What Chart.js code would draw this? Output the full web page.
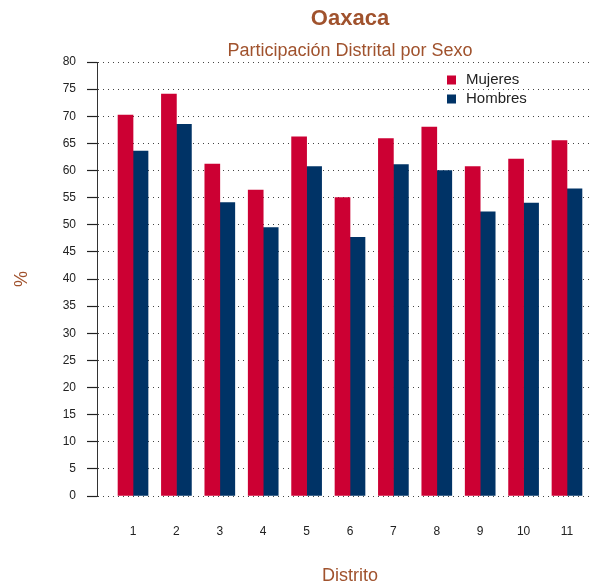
<!DOCTYPE html>
<html>
<head>
<meta charset="utf-8">
<script src="https://cdn.jsdelivr.net/npm/chart.js@4/dist/chart.umd.min.js"></script>
<style>
  html, body { margin: 0; background: #fff; overflow: hidden; }
  #caja { width: 603px; height: 587px; }
</style>
</head>
<body>
<div id="caja"><canvas id="grafica"></canvas></div>
<script>
const distritos = [1, 2, 3, 4, 5, 6, 7, 8, 9, 10, 11]
const mujeres = [70.2, 74.1, 61.2, 56.4, 66.2, 55.0, 65.9, 68.0, 60.7, 62.1, 65.5]
const hombres = [63.6, 68.5, 54.1, 49.5, 60.7, 47.7, 61.1, 60.0, 52.4, 54.0, 56.6]
const ticksY = [0, 5, 10, 15, 20, 25, 30, 35, 40, 45, 50, 55, 60, 65, 70, 75, 80]

const cafe = "#A0522D"
const rojo = "#CC0033"
const azul = "#003366"
const fuente = "'Liberation Sans', Arial, Helvetica, sans-serif"

// leyenda dentro del area de la grafica (arriba a la derecha)
const leyenda = {
  id: "leyenda",
  afterDraw(chart) {
    const ctx = chart.ctx
    ctx.save()
    ctx.font = "15px " + fuente
    ctx.textBaseline = "middle"
    chart.data.datasets.forEach((ds, i) => {
      const y = 80 + i * 19
      ctx.fillStyle = ds.backgroundColor
      ctx.fillRect(447, y - 4.5, 9, 9)
      ctx.fillStyle = "#222"
      ctx.fillText(ds.label, 466, y)
    })
    ctx.restore()
  }
}

const datos = (serie) => distritos.map((d, i) => ({ x: d, y: serie[i] }))

const config = {
  type: "bar",
  data: {
    datasets: [
      { label: "Mujeres", backgroundColor: rojo, data: datos(mujeres), barThickness: 15 },
      { label: "Hombres", backgroundColor: azul, data: datos(hombres), barThickness: 15 }
    ]
  },
  options: {
    responsive: true,
    maintainAspectRatio: false,
    animation: false,
    layout: { padding: 0 },
    plugins: {
      legend: { display: false },
      tooltip: { enabled: false },
      title: {
        display: true,
        text: "Oaxaca",
        color: cafe,
        fullSize: false,
        font: { family: fuente, size: 22, weight: "bold", lineHeight: 1.2 },
        padding: { top: 6, bottom: 4 }
      },
      subtitle: {
        display: true,
        text: "Participación Distrital por Sexo",
        color: cafe,
        fullSize: false,
        font: { family: fuente, size: 18, lineHeight: 1.2 },
        padding: { top: 4, bottom: 0 }
      }
    },
    scales: {
      x: {
        type: "linear",
        offset: false,
        min: 0.17,
        max: 11.83,
        grid: { display: false, drawTicks: false },
        border: { display: false },
        afterBuildTicks: (s) => { s.ticks = distritos.map((v) => ({ value: v })) },
        afterFit: (s) => { s.height = 91 },
        ticks: {
          color: "#222",
          padding: 28.8,
          maxRotation: 0,
          autoSkip: false,
          font: { family: fuente, size: 12 },
          callback: (v) => String(v)
        },
        title: {
          display: true,
          text: "Distrito",
          color: cafe,
          font: { family: fuente, size: 18, lineHeight: 1.2 },
          padding: { top: 26, bottom: 0 }
        }
      },
      y: {
        min: 0,
        max: 80,
        afterBuildTicks: (s) => { s.ticks = ticksY.map((v) => ({ value: v })) },
        afterFit: (s) => { s.width = 97 },
        border: { display: true, color: "#333", width: 1, dash: [1, 4] },
        grid: {
          color: "#444",
          lineWidth: 1,
          tickLength: 10,
          tickColor: "#222",
          tickBorderDash: [],
          tickWidth: 1.2
        },
        ticks: {
          color: "#222",
          padding: 11,
          font: { family: fuente, size: 12 }
        },
        title: {
          display: true,
          text: "%",
          color: cafe,
          font: { family: fuente, size: 18, lineHeight: 1.2 },
          padding: { top: 11, bottom: 0 }
        }
      }
    }
  },
  plugins: [leyenda]
}

new Chart(document.getElementById("grafica"), config)
</script>
</body>
</html>
